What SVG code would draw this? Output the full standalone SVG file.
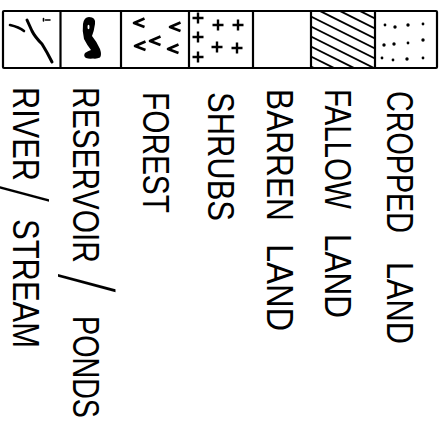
<svg xmlns="http://www.w3.org/2000/svg" width="442" height="429" viewBox="0 0 442 429">
<style>
.frame{fill:#fff;stroke:#000;stroke-width:2.2}
.div{stroke:#000;stroke-width:2.2}
.ink{fill:none;stroke:#000;stroke-linecap:round;stroke-linejoin:round}
.lbl{font-family:"Liberation Sans",Arial,sans-serif;font-size:37px;fill:#000}
.sl{font-family:Inter,"DejaVu Sans",sans-serif;font-weight:200}
</style>
<defs>
<clipPath id="fallowClip"><rect x="312" y="11" width="63" height="57"/></clipPath>
<g id="plus"><path d="M-5.5,0 H5.5 M0,-5.5 V5.5" stroke="#000" stroke-width="2.4" fill="none"/></g>
<g id="lt"><path d="M5.5,-4.5 L-5,0 L5.5,4" stroke="#000" stroke-width="2.6" fill="none" stroke-linejoin="round"/></g>
</defs>
<rect width="442" height="429" fill="#fff"/>

<g id="legend-frame">
<rect class="frame" x="3" y="11" width="434" height="57" rx="1"/>
<line class="div" x1="60.5" y1="11" x2="60.5" y2="68"/>
<line class="div" x1="121" y1="11" x2="121" y2="68"/>
<line class="div" x1="189" y1="11" x2="189" y2="68"/>
<line class="div" x1="253" y1="11" x2="253" y2="68"/>
<line class="div" x1="311" y1="11" x2="311" y2="68"/>
<line class="div" x1="375" y1="11" x2="375" y2="68"/>
</g>

<g id="river">
<path class="ink" stroke-width="3" d="M27,20 L32,31 Q35,37 42,44 Q47,52 52,62"/>
<path class="ink" stroke-width="2.6" d="M10,25 Q19,27 24,31"/>
<path class="ink" stroke-width="1.6" d="M43.5,18.5 V21 M45.5,20 H50"/>
</g>

<g id="reservoir">
<path fill="#000" d="M89,17 Q96,17 95,24 Q94,31 92,36 Q97,42 100,49 Q102,55 100,57.5 Q97,59 93,58.5 Q89,59 86,58 Q83,56 85,53 Q88,51 91,50 Q87,45 84,39 Q82,31 83,24 Q84,17 89,17 Z"/>
<ellipse cx="88.5" cy="27" rx="1" ry="2.2" fill="#fff"/>
</g>

<g id="forest">
<use href="#lt" x="139" y="23"/>
<use href="#lt" x="175" y="27"/>
<use href="#lt" x="140" y="46"/>
<use href="#lt" x="155" y="41"/>
<use href="#lt" x="173" y="49"/>
</g>

<g id="shrubs">
<use href="#plus" x="198" y="18"/>
<use href="#plus" x="218" y="25"/>
<use href="#plus" x="238" y="25"/>
<use href="#plus" x="198" y="37"/>
<use href="#plus" x="217" y="47"/>
<use href="#plus" x="237" y="48"/>
<use href="#plus" x="198" y="57"/>
</g>

<g id="barren"></g>

<g id="fallow" clip-path="url(#fallowClip)">
<path class="ink" stroke-width="1.9" d="M312,-43 l70,35 M312,-33 l70,35 M312,-23 l70,35 M312,-13 l70,35 M312,-3 l70,35 M312,7 l70,35 M312,17 l70,35 M312,27 l70,35 M312,37 l70,35 M312,47 l70,35 M312,57 l70,35 M312,67 l70,35"/>
</g>

<g id="cropped" fill="#000">
<circle cx="385" cy="25" r="1.4"/><circle cx="395" cy="27" r="1.7"/><circle cx="408" cy="25" r="1.7"/><circle cx="423" cy="24" r="1.4"/>
<circle cx="384" cy="45" r="1.7"/><circle cx="394" cy="44" r="1.7"/><circle cx="408" cy="43" r="1.4"/><circle cx="423" cy="40" r="1.7"/>
<circle cx="382" cy="58" r="1.4"/><circle cx="393" cy="60" r="1.4"/><circle cx="407" cy="59" r="1.7"/><circle cx="423" cy="58" r="1.4"/>
</g>

<g id="labels">
<text class="lbl" transform="translate(387,0) rotate(90)"><tspan x="91" y="0" textLength="142" lengthAdjust="spacingAndGlyphs">CROPPED</tspan> <tspan x="262" y="0" textLength="82" lengthAdjust="spacingAndGlyphs">LAND</tspan></text>
<text class="lbl" transform="translate(325,0) rotate(90)"><tspan x="89" y="0" textLength="120" lengthAdjust="spacingAndGlyphs">FALLOW</tspan> <tspan x="234" y="0" textLength="84" lengthAdjust="spacingAndGlyphs">LAND</tspan></text>
<text class="lbl" transform="translate(267,0) rotate(90)"><tspan x="89" y="0" textLength="132" lengthAdjust="spacingAndGlyphs">BARREN</tspan> <tspan x="244" y="0" textLength="87" lengthAdjust="spacingAndGlyphs">LAND</tspan></text>
<text class="lbl" transform="translate(208,0) rotate(90)"><tspan x="92" y="0" textLength="129" lengthAdjust="spacingAndGlyphs">SHRUBS</tspan></text>
<text class="lbl" transform="translate(143,0) rotate(90)"><tspan x="92" y="0" textLength="121" lengthAdjust="spacingAndGlyphs">FOREST</tspan></text>
<text class="lbl" transform="translate(73,0) rotate(90)"><tspan x="87" y="0" textLength="176" lengthAdjust="spacingAndGlyphs">RESERVOIR</tspan> <tspan class="sl" x="272" y="8" font-size="66">/</tspan> <tspan x="316" y="0" textLength="102" lengthAdjust="spacingAndGlyphs">PONDS</tspan></text>
<text class="lbl" transform="translate(13,0) rotate(90)"><tspan x="87" y="0" textLength="94" lengthAdjust="spacingAndGlyphs">RIVER</tspan> <tspan class="sl" x="184" y="8" font-size="58">/</tspan> <tspan x="219" y="0" textLength="129" lengthAdjust="spacingAndGlyphs">STREAM</tspan></text>
</g>
</svg>
